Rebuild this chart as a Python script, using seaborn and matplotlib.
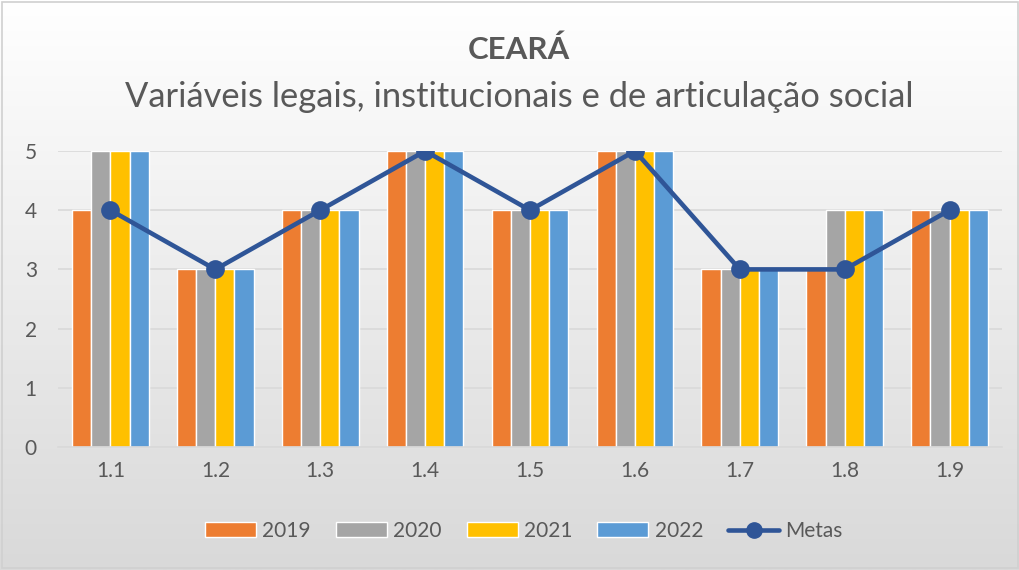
import matplotlib
matplotlib.use("Agg")
import matplotlib.pyplot as plt
import numpy as np
import pandas as pd
import seaborn as sns
from matplotlib.lines import Line2D
from matplotlib.patches import Patch, Rectangle

"""
Ceará - variáveis legais, institucionais e de articulação social.
Grouped bars per year plus the target line (Metas).
"""

CATEGORIES = ["1.1", "1.2", "1.3", "1.4", "1.5", "1.6", "1.7", "1.8", "1.9"]
YEARS = ["2019", "2020", "2021", "2022"]
Y2019 = [4, 3, 4, 5, 4, 5, 3, 3, 4]
Y2020 = [5, 3, 4, 5, 4, 5, 3, 4, 4]
Y2021 = [5, 3, 4, 5, 4, 5, 3, 4, 4]
Y2022 = [5, 3, 4, 5, 4, 5, 3, 4, 4]
METAS = [4, 3, 4, 5, 4, 5, 3, 3, 4]

COLORS = ["#ED7D31", "#A5A5A5", "#FFC000", "#5B9BD5"]
LINE_COLOR = "#2F5597"
TEXT_COLOR = "#595959"

sns.set_style("white")
plt.rcParams["font.family"] = ["Lato", "DejaVu Sans"]

data = pd.DataFrame({
    "item": CATEGORIES * 4,
    "ano": [y for y in YEARS for _ in CATEGORIES],
    "valor": Y2019 + Y2020 + Y2021 + Y2022,
})

fig = plt.figure(figsize=(10.2, 5.7), dpi=100)

# gradient background (white at top to light grey at bottom)
bg = fig.add_axes([0, 0, 1, 1], zorder=-10)
grad = np.linspace(1.0, 0.0, 256).reshape(-1, 1)
bg.imshow(grad, aspect="auto", cmap=matplotlib.colors.LinearSegmentedColormap.from_list(
    "bg", ["#D9D9D9", "#FFFFFF"]), extent=[0, 1, 0, 1], origin="upper")
bg.add_patch(Rectangle((0.002, 0.003), 0.996, 0.994, transform=bg.transAxes,
                       fill=False, edgecolor="#D0D0D0", linewidth=1.2))
bg.set_axis_off()

ax = fig.add_axes([58 / 1020, 1 - 447 / 570, 944 / 1020, 296 / 570])
ax.patch.set_alpha(0)

sns.barplot(data=data, x="item", y="valor", hue="ano", order=CATEGORIES,
            hue_order=YEARS, palette=COLORS, width=0.73, saturation=1,
            ax=ax, legend=False, zorder=2)
sns.pointplot(x=CATEGORIES, y=METAS, color=LINE_COLOR, markers="o",
              linestyles="-", markersize=11, linewidth=3.3, ax=ax, zorder=3)

ax.set_xlim(-0.5, len(CATEGORIES) - 0.5)
ax.set_ylim(0, 5)
ax.set_yticks(range(0, 6))
ax.yaxis.grid(True, color="#D9D9D9", linewidth=1.2, zorder=0)
ax.set_axisbelow(True)
for s in ["top", "right", "left"]:
    ax.spines[s].set_visible(False)
ax.spines["bottom"].set_color("#D9D9D9")
ax.spines["bottom"].set_linewidth(1.2)
ax.set_xlabel("")
ax.set_ylabel("")
ax.tick_params(axis="both", length=0, labelsize=15, labelcolor=TEXT_COLOR)
ax.tick_params(axis="x", pad=10)
ax.tick_params(axis="y", pad=24)
for lbl in ax.get_yticklabels():
    lbl.set_horizontalalignment("left")

fig.text(519 / 1020, 1 - 50 / 570, "CEARÁ", ha="center", va="center",
         fontsize=22.5, fontweight="bold", color=TEXT_COLOR)
fig.text(519 / 1020, 1 - 97 / 570, "Variáveis legais, institucionais e de articulação social",
         ha="center", va="center", fontsize=24.8, color=TEXT_COLOR)

handles = [Patch(facecolor=c, label=y) for c, y in zip(COLORS, YEARS)]
handles.append(Line2D([0], [0], color=LINE_COLOR, linewidth=3.3, marker="o",
                      markersize=11, label="Metas"))
fig.legend(handles=handles, loc="center", bbox_to_anchor=(524 / 1020, 1 - 531 / 570),
           ncol=5, frameon=False, fontsize=15, labelcolor=TEXT_COLOR,
           handlelength=2.45, handleheight=0.7, handletextpad=0.3,
           columnspacing=1.2)

fig.savefig("out.png", dpi=100)
